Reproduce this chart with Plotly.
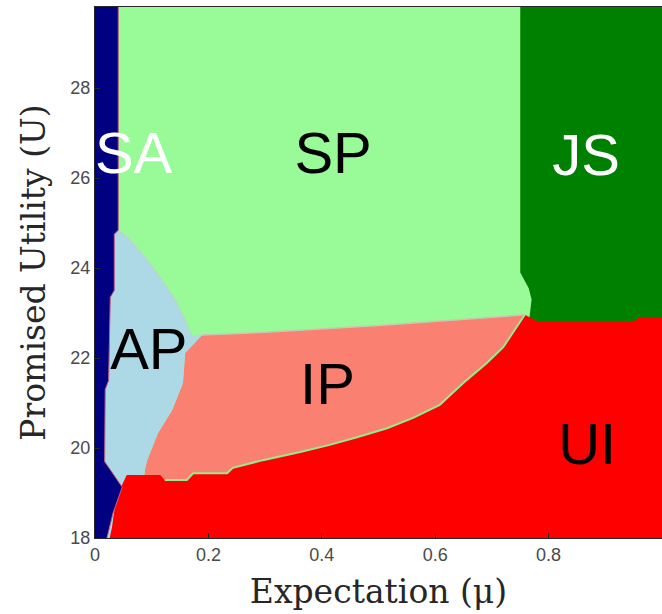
import plotly.graph_objects as go

# ---------------- data (region boundaries) ----------------
X_RANGE = [0, 1]
Y_RANGE = [18, 29.8]
X_TICKS = [0, 0.2, 0.4, 0.6, 0.8, 1]
X_TICK_LABELS = ["0", "0.2", "0.4", "0.6", "0.8", "1"]
Y_TICKS = [18, 20, 22, 24, 26, 28]
Y_TICK_LABELS = ["18", "20", "22", "24", "26", "28"]

# SA (navy) right boundary, top to bottom
SA_BOUND_X = [0.041, 0.041, 0.034, 0.034, 0.027, 0.024, 0.018, 0.017, 0.048, 0.032, 0.023, 0.021]
SA_BOUND_Y = [29.8, 24.84, 24.75, 23.5, 23.35, 21.5, 21.3, 19.7, 19.13, 18.56, 18.1, 18.0]

# JS (dark green) left boundary, top to bottom
JS_BOUND_X = [0.75, 0.75, 0.765, 0.77, 0.758]
JS_BOUND_Y = [29.8, 23.9, 23.55, 23.3, 22.96]

# AP / SP boundary (light blue top edge), left to right
AP_TOP_X = [0.041, 0.06, 0.088, 0.118, 0.141, 0.159, 0.171, 0.189]
AP_TOP_Y = [24.84, 24.65, 24.24, 23.73, 23.29, 22.84, 22.47, 22.51]

# AP / IP boundary, top to bottom
AP_IP_X = [0.189, 0.159, 0.155, 0.136, 0.111, 0.092, 0.088]
AP_IP_Y = [22.51, 22.11, 21.44, 20.84, 20.33, 19.73, 19.51]

# IP / SP boundary, left to right
IP_TOP_X = [0.189, 0.3, 0.5, 0.7, 0.758]
IP_TOP_Y = [22.51, 22.57, 22.72, 22.9, 22.96]

# UI top boundary (UI / AP, UI / IP), left to right
UI_TOP_X = [0.056, 0.115, 0.123, 0.162, 0.173, 0.233, 0.243, 0.296, 0.362, 0.414,
            0.462, 0.515, 0.561, 0.608, 0.649, 0.691, 0.720, 0.744, 0.758]
UI_TOP_Y = [19.40, 19.40, 19.29, 19.29, 19.44, 19.44, 19.56, 19.73, 19.91, 20.07,
            20.24, 20.44, 20.67, 20.96, 21.44, 21.89, 22.24, 22.69, 22.96]

# UI / JS boundary, left to right
UI_JS_X = [0.758, 0.78, 0.95, 0.96, 1.0]
UI_JS_Y = [22.96, 22.82, 22.82, 22.9, 22.9]

# UI left edge, bottom to top
UI_LEFT_X = [0.026, 0.030, 0.035, 0.041, 0.056]
UI_LEFT_Y = [18.0, 18.24, 18.69, 19.0, 19.40]

REGION_COLORS = {
    "SP": "#98FB98",
    "JS": "#008000",
    "IP": "#FA8072",
    "AP": "#ADD8E6",
    "UI": "#FF0000",
    "SA": "#000080",
}

LABELS = ["SA", "SP", "JS", "AP", "IP", "UI"]
LABEL_X = [0.068, 0.42, 0.866, 0.095, 0.41, 0.868]
LABEL_Y = [26.44, 26.44, 26.4, 22.07, 21.3, 19.96]
LABEL_COLORS = ["white", "black", "white", "black", "black", "black"]

# ---------------- polygons ----------------
x0, x1 = X_RANGE
y0, y1 = Y_RANGE

SP_X = [x0, x1, x1, x0]
SP_Y = [y0, y0, y1, y1]

JS_X = [x1, x1, JS_BOUND_X[-1]] + JS_BOUND_X[::-1][1:]
JS_Y = [y1, 22.0, 22.0] + JS_BOUND_Y[::-1][1:]

IP_X = IP_TOP_X + [IP_TOP_X[-1], 0.085] + AP_IP_X[::-1]
IP_Y = IP_TOP_Y + [19.0, 19.0] + AP_IP_Y[::-1]

AP_X = [0.01] + AP_TOP_X + AP_IP_X[1:] + [0.06, 0.01]
AP_Y = [AP_TOP_Y[0]] + AP_TOP_Y + AP_IP_Y[1:] + [18.0, 18.0]

UI_X = UI_TOP_X + UI_JS_X[1:] + [x1] + UI_LEFT_X
UI_Y = UI_TOP_Y + UI_JS_Y[1:] + [y0] + UI_LEFT_Y

SA_X = [x0, x0] + SA_BOUND_X
SA_Y = [y0, y1] + SA_BOUND_Y

fig = go.Figure()

def poly(xs, ys, color):
    fig.add_trace(go.Scatter(
        x=xs, y=ys, mode="lines", fill="toself", fillcolor=color,
        line=dict(width=0, color=color), hoverinfo="skip", showlegend=False))

poly(SP_X, SP_Y, REGION_COLORS["SP"])
poly(JS_X, JS_Y, REGION_COLORS["JS"])
poly(IP_X, IP_Y, REGION_COLORS["IP"])
poly(AP_X, AP_Y, REGION_COLORS["AP"])
poly(UI_X, UI_Y, REGION_COLORS["UI"])
poly(SA_X, SA_Y, REGION_COLORS["SA"])

# thin boundary lines
fig.add_trace(go.Scatter(x=UI_TOP_X[2:], y=UI_TOP_Y[2:], mode="lines",
                         line=dict(color="#90EE90", width=2),
                         hoverinfo="skip", showlegend=False))
fig.add_trace(go.Scatter(x=IP_TOP_X, y=IP_TOP_Y, mode="lines",
                         line=dict(color="#C8C8B0", width=1.5), hoverinfo="skip", showlegend=False))
fig.add_trace(go.Scatter(x=AP_TOP_X, y=AP_TOP_Y, mode="lines",
                         line=dict(color="#B8D8C8", width=1.5), hoverinfo="skip", showlegend=False))
fig.add_trace(go.Scatter(x=SA_BOUND_X, y=SA_BOUND_Y, mode="lines",
                         line=dict(color="#C06080", width=1), hoverinfo="skip", showlegend=False))

# region labels
for lab, lx, ly, lc in zip(LABELS, LABEL_X, LABEL_Y, LABEL_COLORS):
    fig.add_trace(go.Scatter(
        x=[lx], y=[ly], mode="text", text=[lab],
        textfont=dict(family="Liberation Sans, Arial", size=58, color=lc),
        textposition="middle center", hoverinfo="skip", showlegend=False))

axis_common = dict(
    showgrid=False, zeroline=False, showline=True, mirror=True,
    linecolor="#262626", linewidth=1, automargin=False,
    ticks="inside", ticklen=5, tickcolor="#262626",
    tickfont=dict(family="Liberation Sans, Arial", size=18, color="#4a4a4a"),
)

fig.update_layout(
    width=662, height=614,
    margin=dict(l=95, r=0, t=7, b=76),
    paper_bgcolor="white", plot_bgcolor="white",
    xaxis=dict(range=X_RANGE, tickvals=X_TICKS, ticktext=X_TICK_LABELS,
               title=dict(text="Expectation (μ)", standoff=16,
                          font=dict(family="DejaVu Serif", size=33, color="#262626")),
               **axis_common),
    yaxis=dict(range=Y_RANGE, tickvals=Y_TICKS, ticktext=Y_TICK_LABELS,
               title=dict(text="Promised Utility (U)", standoff=14,
                          font=dict(family="DejaVu Serif", size=33, color="#262626")),
               **axis_common),
)

fig.write_html("out.html", config={"displayModeBar": False},
               post_script="document.body.style.margin='0';document.body.style.overflow='hidden';")
